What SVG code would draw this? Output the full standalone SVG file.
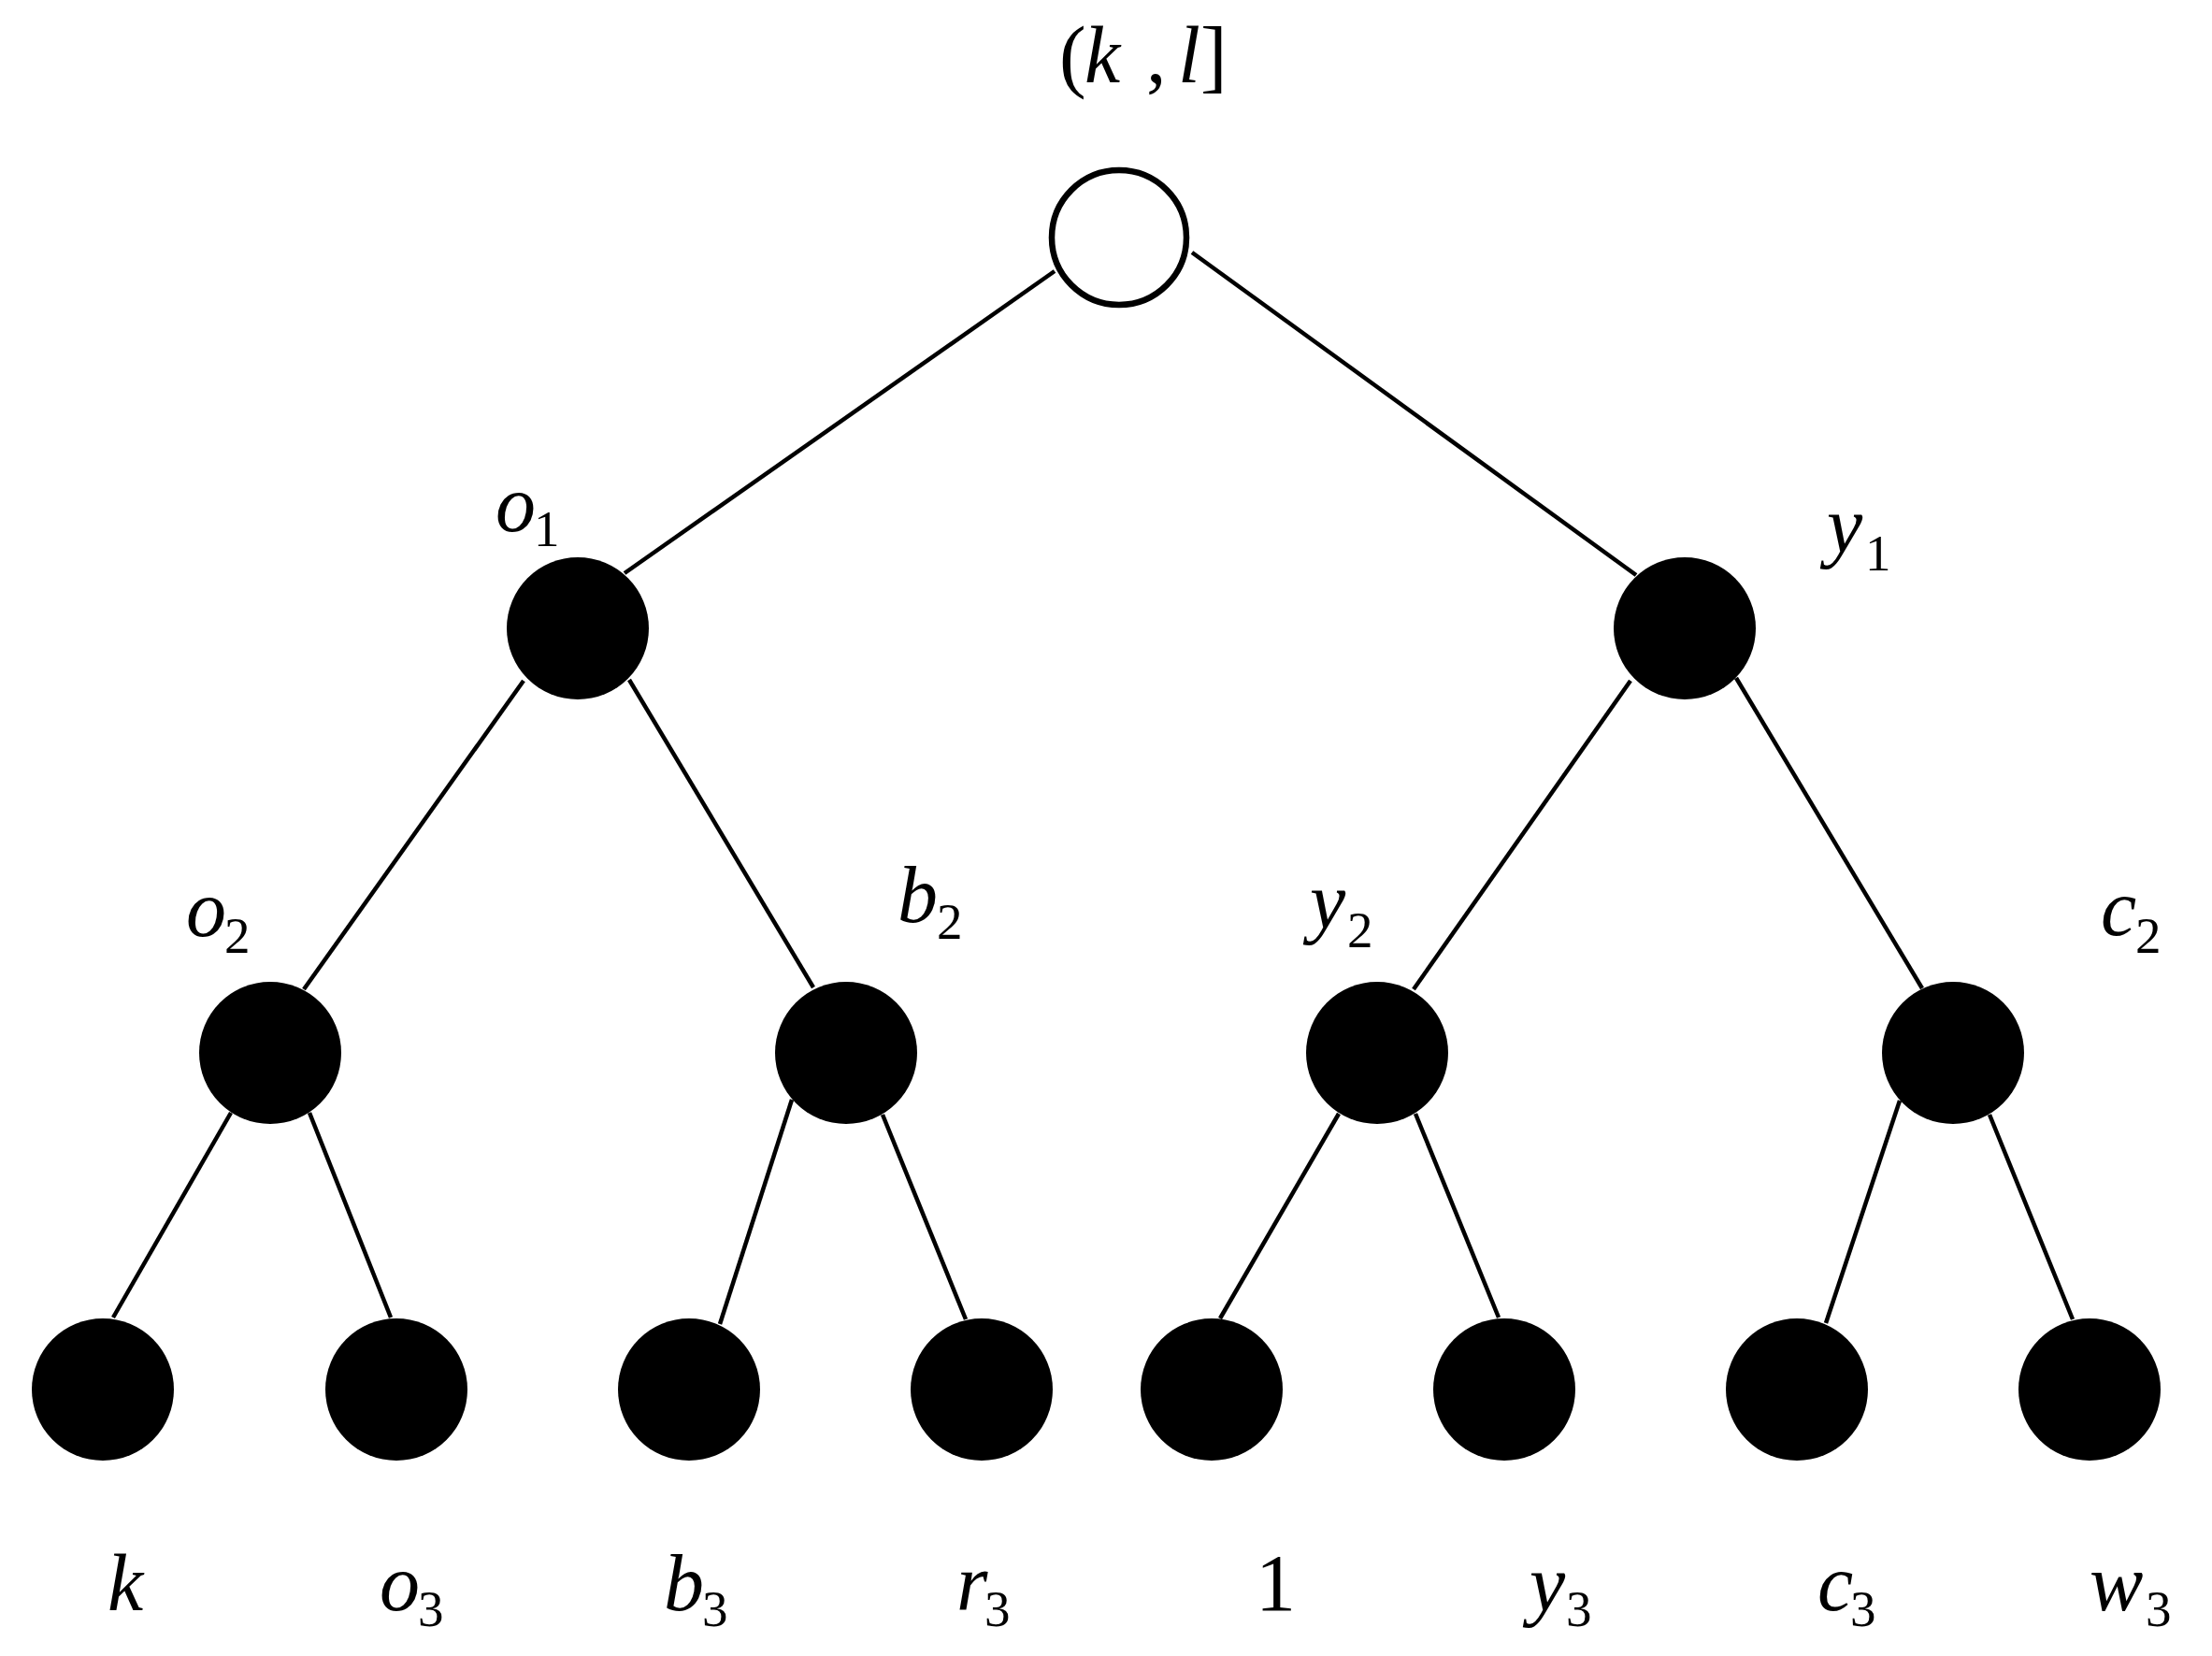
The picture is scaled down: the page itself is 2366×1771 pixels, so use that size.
<svg xmlns="http://www.w3.org/2000/svg" width="2366" height="1771" viewBox="0 0 2366 1771">
<style>
.e{stroke:#000;stroke-width:4.5;stroke-linecap:butt;fill:none}
.n{fill:#000}
.r{fill:#fff;stroke:#000;stroke-width:6.5}
.t{font-family:"Liberation Serif","Times New Roman",serif;font-size:86px;fill:#000}
.i{font-style:italic}
.s{font-size:55px;font-style:normal}
</style>
<rect width="2366" height="1771" fill="#fff"/>
<g id="connectors">
<line class="e" x1="1128" y1="290" x2="668" y2="613"/>
<line class="e" x1="1275" y1="270" x2="1750" y2="615"/>
<line class="e" x1="560" y1="728" x2="325" y2="1058"/>
<line class="e" x1="673" y1="727" x2="870" y2="1056"/>
<line class="e" x1="1744" y1="728" x2="1512" y2="1058"/>
<line class="e" x1="1857" y1="725" x2="2056" y2="1057"/>
<line class="e" x1="247" y1="1190" x2="121" y2="1409"/>
<line class="e" x1="331" y1="1190" x2="418" y2="1409"/>
<line class="e" x1="847" y1="1176" x2="770" y2="1416"/>
<line class="e" x1="944" y1="1192" x2="1033" y2="1411"/>
<line class="e" x1="1432" y1="1191" x2="1305" y2="1410"/>
<line class="e" x1="1514" y1="1191" x2="1603" y2="1409"/>
<line class="e" x1="2032" y1="1177" x2="1953" y2="1415"/>
<line class="e" x1="2128" y1="1192" x2="2217" y2="1411"/>
</g>
<g id="root">
<circle class="r" cx="1197" cy="254" r="72"/>
<text class="t" y="88"><tspan x="1133">(</tspan><tspan class="i" x="1160">k</tspan><tspan x="1226">,</tspan><tspan class="i" x="1260">l</tspan><tspan x="1284">]</tspan></text>
</g>
<g id="o1">
<circle class="n" cx="618" cy="672" r="76"/>
<text class="t i" x="530" y="568">o</text><text class="t s" x="571" y="584">1</text>
</g>
<g id="y1">
<circle class="n" cx="1802" cy="672" r="76"/>
<text class="t i" x="1954" y="590">y</text><text class="t s" x="1995" y="610">1</text>
</g>
<g id="o2">
<circle class="n" cx="289" cy="1126" r="76"/>
<text class="t i" x="199" y="1001">o</text><text class="t s" x="240" y="1019">2</text>
</g>
<g id="b2">
<circle class="n" cx="905" cy="1126" r="76"/>
<text class="t i" x="960" y="986">b</text><text class="t s" x="1002" y="1004">2</text>
</g>
<g id="y2">
<circle class="n" cx="1473" cy="1126" r="76"/>
<text class="t i" x="1401" y="992">y</text><text class="t s" x="1441" y="1013">2</text>
</g>
<g id="c2">
<circle class="n" cx="2089" cy="1126" r="76"/>
<text class="t i" x="2247" y="1000">c</text><text class="t s" x="2284" y="1019">2</text>
</g>
<g id="leaf-k">
<circle class="n" cx="110" cy="1486" r="76"/>
<text class="t i" x="115" y="1722">k</text>
</g>
<g id="leaf-o3">
<circle class="n" cx="424" cy="1486" r="76"/>
<text class="t i" x="406" y="1722">o</text><text class="t s" x="447" y="1739">3</text>
</g>
<g id="leaf-b3">
<circle class="n" cx="737" cy="1486" r="76"/>
<text class="t i" x="710" y="1722">b</text><text class="t s" x="751" y="1739">3</text>
</g>
<g id="leaf-r3">
<circle class="n" cx="1050" cy="1486" r="76"/>
<text class="t i" x="1023" y="1722">r</text><text class="t s" x="1053" y="1739">3</text>
</g>
<g id="leaf-1">
<circle class="n" cx="1296" cy="1486" r="76"/>
<text class="t" x="1343" y="1722">1</text>
</g>
<g id="leaf-y3">
<circle class="n" cx="1609" cy="1486" r="76"/>
<text class="t i" x="1636" y="1722">y</text><text class="t s" x="1675" y="1739">3</text>
</g>
<g id="leaf-c3">
<circle class="n" cx="1922" cy="1486" r="76"/>
<text class="t i" x="1944" y="1722">c</text><text class="t s" x="1979" y="1739">3</text>
</g>
<g id="leaf-w3">
<circle class="n" cx="2235" cy="1486" r="76"/>
<text class="t i" x="2235" y="1722">w</text><text class="t s" x="2295" y="1739">3</text>
</g>
</svg>
